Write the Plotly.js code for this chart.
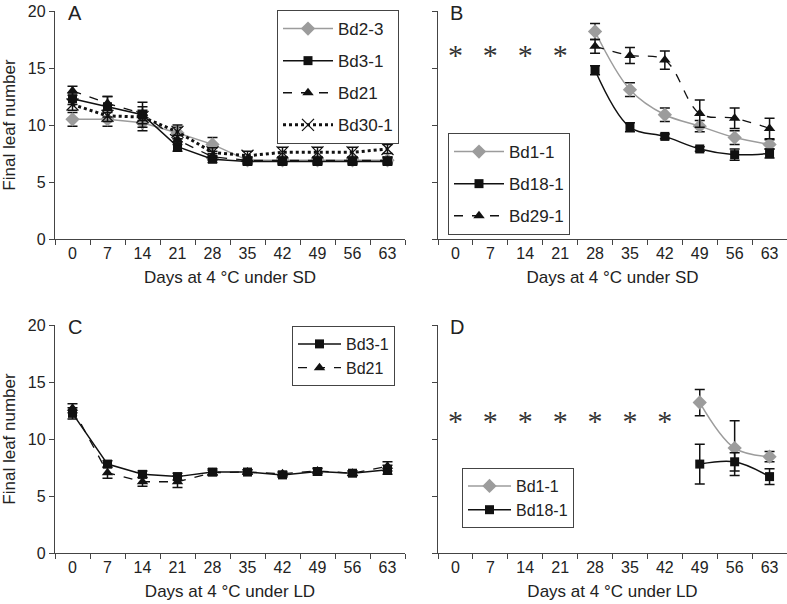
<!DOCTYPE html>
<html>
<head>
<meta charset="utf-8">
<script src="https://cdn.plot.ly/plotly-3.0.1.min.js"></script>
<style>html,body{margin:0;padding:0;background:#fff;}#chart{width:787px;height:604px;}</style>
</head>
<body>
<div id="chart"></div>
<script>
// ---- data ----
const days = [0, 7, 14, 21, 28, 35, 42, 49, 56, 63];
const dayLabels = days.map(String);

// Panel A (SD)
const aBd23 = [10.5, 10.5, 10.2, 9.3, 8.3, 6.9, 6.9, 6.9, 6.9, 6.9];
const aBd23Err = [0.6, 0.6, 0.7, 0.5, 0.6, 0.3, 0.3, 0.3, 0.3, 0.3];
const aBd31 = [12.3, 11.6, 10.9, 8.1, 7.0, 6.8, 6.8, 6.8, 6.8, 6.8];
const aBd31Err = [0.5, 0.9, 1.1, 0.4, 0.3, 0.3, 0.3, 0.3, 0.3, 0.3];
const aBd21 = [13.0, 11.9, 11.0, 8.7, 7.2, 6.9, 6.9, 6.9, 6.9, 6.9];
const aBd21Err = [0.4, 0.6, 0.6, 0.4, 0.3, 0.3, 0.3, 0.3, 0.3, 0.3];
const aBd301 = [11.8, 10.8, 10.7, 9.4, 7.6, 7.3, 7.6, 7.6, 7.6, 7.9];
const aBd301Err = [0.5, 0.5, 0.6, 0.6, 0.4, 0.4, 0.45, 0.45, 0.45, 0.4];

// Panel B (SD)
const bDays = [28, 35, 42, 49, 56, 63];
const bBd11 = [18.2, 13.1, 10.9, 9.9, 8.9, 8.3];
const bBd11Err = [0.7, 0.6, 0.6, 0.5, 0.6, 0.4];
const bBd181 = [14.8, 9.8, 9.0, 7.9, 7.4, 7.5];
const bBd181Err = [0.4, 0.4, 0.2, 0.2, 0.5, 0.4];
const bBd291 = [16.9, 16.1, 15.7, 11.0, 10.6, 9.7];
const bBd291Err = [0.6, 0.7, 0.8, 1.2, 0.9, 0.9];
const bStarDays = [0, 7, 14, 21];
const bStarLevel = [15.9, 15.9, 15.9, 15.9];

// Panel C (LD)
const cBd31 = [12.25, 7.8, 6.9, 6.7, 7.1, 7.1, 6.85, 7.15, 7.0, 7.3];
const cBd31Err = [0.5, 0.3, 0.3, 0.3, 0.3, 0.2, 0.2, 0.3, 0.2, 0.4];
const cBd21 = [12.7, 7.05, 6.25, 6.25, 7.05, 7.1, 6.95, 7.2, 7.0, 7.6];
const cBd21Err = [0.4, 0.5, 0.4, 0.5, 0.2, 0.2, 0.2, 0.2, 0.2, 0.4];

// Panel D (LD)
const dDays = [49, 56, 63];
const dBd11 = [13.2, 9.2, 8.45];
const dBd11Err = [1.15, 2.4, 0.45];
const dBd181 = [7.8, 8.0, 6.7];
const dBd181Err = [1.75, 0.8, 0.7];
const dStarDays = [0, 7, 14, 21, 28, 35, 42];
const dStarLevel = [11.4, 11.4, 11.4, 11.4, 11.4, 11.4, 11.4];

// ---- styles ----
const GREY = '#9c9c9c';
const BLACK = '#111111';
const errStyle = (arr) => ({type: 'data', array: arr, visible: true, color: BLACK, thickness: 1.5, width: 5});

function series(xd, yd, err, name, xa, ya, legend, opts) {
  return Object.assign({
    type: 'scatter', mode: 'lines+markers',
    x: xd.map(String), y: yd, name: name,
    xaxis: xa, yaxis: ya, legend: legend, legendgroup: legend + name,
    error_y: errStyle(err)
  }, opts);
}
const sq = {line: {color: BLACK, width: 1.5}, marker: {symbol: 'square', size: 9, color: BLACK}};
const tri = {line: {color: BLACK, width: 1.3, dash: 'dash'}, marker: {symbol: 'triangle-up', size: 10, color: BLACK}};
const dia = {line: {color: GREY, width: 1.5}, marker: {symbol: 'diamond', size: 11, color: GREY}};
const xs = {line: {color: BLACK, width: 3, dash: 'dot'}, marker: {symbol: 'x-thin-open', size: 12, color: BLACK, line: {color: BLACK, width: 1.3}}};
function spl(o) { const c = JSON.parse(JSON.stringify(o)); c.line.shape = 'spline'; c.line.smoothing = 1; return c; }

function stars(xd, yd, xa, ya) {
  return {type: 'scatter', mode: 'text', x: xd.map(String), y: yd, text: xd.map(() => '*'),
    textposition: 'middle center', textfont: {family: 'Liberation Serif, serif', size: 30, color: '#333333'},
    xaxis: xa, yaxis: ya, showlegend: false, hoverinfo: 'skip'};
}

const traces = [
  series(days, aBd23, aBd23Err, 'Bd2-3', 'x', 'y', 'legend', dia),
  series(days, aBd31, aBd31Err, 'Bd3-1', 'x', 'y', 'legend', sq),
  series(days, aBd21, aBd21Err, 'Bd21', 'x', 'y', 'legend', tri),
  series(days, aBd301, aBd301Err, 'Bd30-1', 'x', 'y', 'legend', xs),

  series(bDays, bBd11, bBd11Err, 'Bd1-1', 'x2', 'y2', 'legend2', spl(dia)),
  series(bDays, bBd181, bBd181Err, 'Bd18-1', 'x2', 'y2', 'legend2', spl(sq)),
  series(bDays, bBd291, bBd291Err, 'Bd29-1', 'x2', 'y2', 'legend2', spl(tri)),
  stars(bStarDays, bStarLevel, 'x2', 'y2'),

  series(days, cBd31, cBd31Err, 'Bd3-1', 'x3', 'y3', 'legend3', sq),
  series(days, cBd21, cBd21Err, 'Bd21', 'x3', 'y3', 'legend3', tri),

  series(dDays, dBd11, dBd11Err, 'Bd1-1', 'x4', 'y4', 'legend4', spl(dia)),
  series(dDays, dBd181, dBd181Err, 'Bd18-1', 'x4', 'y4', 'legend4', spl(sq)),
  stars(dStarDays, dStarLevel, 'x4', 'y4')
];

const FAM = 'Liberation Sans, Arial, sans-serif';
const TICKFONT = {family: FAM, size: 16, color: '#222'};
const YTICKFONT = {family: FAM, size: 16, color: '#222'};
const TITLEFONT = {family: FAM, size: 17, color: '#222'};

function xax(domain, anchor, title) {
  return {domain: domain, anchor: anchor, type: 'category', categoryorder: 'array', categoryarray: dayLabels,
    tickvals: dayLabels, ticktext: dayLabels,
    range: [-0.5, 9.5], tickson: 'boundaries', ticks: 'outside', ticklen: 5, tickwidth: 1, tickcolor: '#444',
    showline: true, linecolor: '#444', linewidth: 1.2, showgrid: false, zeroline: false,
    tickfont: TICKFONT, title: {text: title, font: TITLEFONT, standoff: 9}, automargin: false};
}
function yax(domain, anchor, showLabels, title) {
  return {domain: domain, anchor: anchor, range: [0, 20], tickvals: [0, 5, 10, 15, 20],
    ticks: 'outside', ticklen: 5, tickwidth: 1, tickcolor: '#444', showticklabels: showLabels,
    showline: true, linecolor: '#444', linewidth: 1.2, showgrid: false, zeroline: false,
    tickfont: YTICKFONT, title: {text: title, font: TITLEFONT, standoff: 8}, automargin: false};
}
function leg(x, yPix, gap, fsize, iw) {
  return {x: x, y: 1 - yPix / 604, xanchor: 'left', yanchor: 'top', xref: 'paper', yref: 'paper',
    bordercolor: '#444', borderwidth: 1, bgcolor: '#fff', font: {family: FAM, size: fsize, color: '#222'},
    traceorder: 'grouped', tracegroupgap: gap, itemwidth: iw};
}
const panelLabel = (txt, xref, yref) => ({text: txt, xref: xref + ' domain', yref: yref + ' domain', x: 0.03, y: 1.05,
  xanchor: 'left', yanchor: 'top', showarrow: false, font: {family: FAM, size: 20, color: '#222'}});

const xL = [55 / 787, 405 / 787];
const xR = [438 / 787, 1.0];
const yT = [1 - 239 / 604, 1 - 11 / 604];
const yB = [1 - 553 / 604, 1 - 325 / 604];

const layout = {
  width: 787, height: 604, margin: {l: 0, r: 0, t: 0, b: 0},
  paper_bgcolor: '#fff', plot_bgcolor: 'rgba(0,0,0,0)',
  xaxis: xax(xL, 'y', 'Days at 4 °C under SD'),
  yaxis: yax(yT, 'x', true, 'Final leaf number'),
  xaxis2: xax(xR, 'y2', 'Days at 4 °C under SD'),
  yaxis2: yax(yT, 'x2', false, ''),
  xaxis3: xax(xL, 'y3', 'Days at 4 °C under LD'),
  yaxis3: yax(yB, 'x3', true, 'Final leaf number'),
  xaxis4: xax(xR, 'y4', 'Days at 4 °C under LD'),
  yaxis4: yax(yB, 'x4', false, ''),
  legend: leg(277 / 787, 10, 7, 17, 50),
  legend2: leg(448 / 787, 133, 7, 17, 50),
  legend3: leg(292 / 787, 326, 0, 16, 43),
  legend4: leg(462 / 787, 468, 0, 16, 43),
  annotations: [panelLabel('A', 'x', 'y'), panelLabel('B', 'x2', 'y2'), panelLabel('C', 'x3', 'y3'), panelLabel('D', 'x4', 'y4')],
  showlegend: true
};

Plotly.newPlot('chart', traces, layout, {displayModeBar: false, staticPlot: true});
</script>
</body>
</html>
